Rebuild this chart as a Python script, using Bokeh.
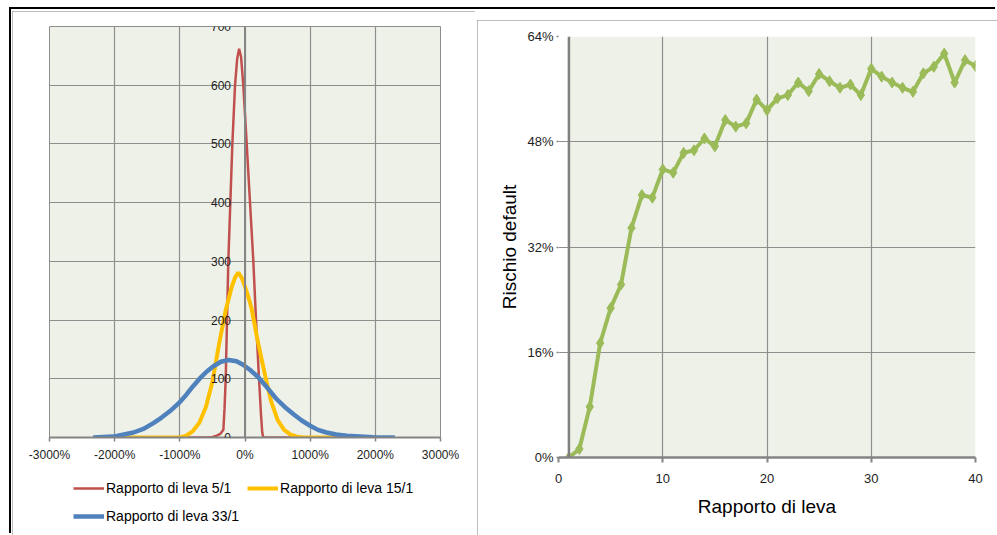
from bokeh.plotting import figure
from bokeh.models import (Range1d, FixedTicker, PrintfTickFormatter, Span, BoxAnnotation,
                          Legend, LegendItem, Label, Div)
from bokeh.embed import file_html
from bokeh.resources import INLINE

# ---------------- left chart data ----------------
red_x = [-1000, -600, -500, -434, -380, -332, -314, -296, -276, -256, -225, -194, -153,
         -120, -90, -60, -26, 26, 77, 128, 169, 215, 245, 265, 280, 1000]
red_y = [0, 0, 1, 3, 6, 13, 50, 100, 200, 300, 400, 500, 600,
         645, 662, 648, 600, 500, 400, 300, 200, 100, 40, 8, 0, 0]

yellow_x = [-2000, -1000, -900, -800, -700, -600, -500, -400, -300, -200, -150, -103, -50,
            0, 50, 100, 200, 300, 400, 500, 600, 700, 800, 900, 2000]
yellow_y = [0, 0, 3, 11, 25, 52, 95, 158, 215, 258, 273, 281, 272,
            257, 240, 220, 162, 110, 62, 30, 13, 5, 1.5, 0, 0]

blue_x = [-2330, -2020, -1710, -1550, -1400, -1280, -1150, -1020, -900, -800, -690, -590,
          -490, -370, -250, -130, -30, 90, 200, 340, 480, 610, 740, 870, 1000, 1120, 1250,
          1400, 1560, 1970, 2300]
blue_y = [0, 1.5, 8.5, 15, 25, 34, 45, 58, 73, 87, 101, 112,
          121, 129, 132, 130, 124, 114, 103, 85, 66, 52, 40, 29, 20, 13, 8.5,
          5, 3, 0.5, 0]

series_names = ["Rapporto di leva 5/1", "Rapporto di leva 15/1", "Rapporto di leva 33/1"]
series_colors = ["#c0504d", "#ffc000", "#4f81bd"]
series_widths = [2.5, 4, 4.5]
left_x_ticks = [-3000, -2000, -1000, 0, 1000, 2000, 3000]
left_y_ticks = [0, 100, 200, 300, 400, 500, 600, 700]
left_y_labels = ["0", "100", "200", "300", "400", "500", "600", "700"]

# ---------------- right chart data ----------------
leverage = list(range(1, 41))
default_risk = [0, 1.3, 7.7, 17.4, 22.7, 26.3, 34.9, 39.9, 39.5, 43.8,
                43.3, 46.3, 46.7, 48.5, 47.3, 51.3, 50.3, 50.8, 54.4, 52.8,
                54.6, 55.1, 57.0, 55.7, 58.3, 57.2, 56.2, 56.7, 55.1, 59.1,
                57.9, 57.0, 56.2, 55.6, 58.4, 59.4, 61.4, 57.0, 60.4, 59.5]
right_x_ticks = [0, 10, 20, 30, 40]
right_y_ticks = [0, 16, 32, 48, 64]

FONT = "Liberation Sans"
BG = "#eef1e8"
GRID = "#8e8e8e"
AXIS = "#848484"
TXT = "#1e1e1e"

# ================= left figure =================
p1 = figure(width=463, height=524, x_range=Range1d(-3000, 3000), y_range=Range1d(0, 700),
            output_backend="svg", toolbar_location=None,
            min_border_left=37, min_border_right=35, min_border_top=15, min_border_bottom=98)
p1.background_fill_color = BG
p1.border_fill_color = "white"
p1.outline_line_color = GRID
p1.outline_line_width = 1
p1.yaxis.visible = False

ax = p1.xaxis[0]
ax.ticker = FixedTicker(ticks=left_x_ticks)
ax.formatter = PrintfTickFormatter(format="%d%%")
ax.axis_line_color = AXIS
ax.axis_line_width = 2
ax.major_tick_line_color = AXIS
ax.major_tick_line_width = 1.5
ax.major_tick_out = 4
ax.major_tick_in = 0
ax.minor_tick_line_color = None
ax.major_label_standoff = 6
ax.major_label_text_font = FONT
ax.major_label_text_font_size = "12px"
ax.major_label_text_color = TXT

p1.xgrid.ticker = FixedTicker(ticks=left_x_ticks)
p1.ygrid.ticker = FixedTicker(ticks=left_y_ticks)
for g in (p1.xgrid, p1.ygrid):
    g.grid_line_color = GRID
    g.grid_line_width = 1.2

# vertical axis crossing at 0 %
p1.add_layout(Span(location=0, dimension="height", line_color=AXIS, line_width=2))
for v, t in zip(left_y_ticks, left_y_labels):
    p1.add_layout(Label(x=0, y=v, text=t, x_offset=-14, text_align="right",
                        text_baseline="middle", text_font=FONT, text_font_size="12px",
                        text_color=TXT))

p1.line(red_x, red_y, line_color=series_colors[0], line_width=series_widths[0])
p1.line(yellow_x, yellow_y, line_color=series_colors[1], line_width=series_widths[1])
p1.line(blue_x, blue_y, line_color=series_colors[2], line_width=series_widths[2])

# ---- legend of the left chart (own small transparent canvas, placed under the chart)
# same series drawn off-view here only to give the legend its line samples
p3 = figure(width=380, height=52, x_range=Range1d(5000, 6000), y_range=Range1d(5000, 6000),
            output_backend="svg", toolbar_location=None, min_border=0)
p3.axis.visible = False
p3.grid.visible = False
p3.outline_line_color = None
p3.background_fill_alpha = 0
p3.border_fill_alpha = 0
leg_r = [p3.line(x=xs, y=ys, line_color=c, line_width=w)
         for xs, ys, c, w in zip([red_x, yellow_x, blue_x], [red_y, yellow_y, blue_y],
                                 series_colors, series_widths)]
legend = Legend(items=[LegendItem(label=n, renderers=[r]) for n, r in zip(series_names, leg_r)],
                location="top_left", orientation="horizontal", ncols=2,
                glyph_width=31, glyph_height=20, label_standoff=2, spacing=8,
                padding=0, margin=0, border_line_color=None, background_fill_alpha=0,
                label_text_font=FONT, label_text_font_size="14px", label_text_color="#000000",
                label_height=20)
p3.add_layout(legend, "center")

# ================= right figure =================
p2 = figure(width=520, height=515, x_range=Range1d(0, 40), y_range=Range1d(0, 64),
            output_backend="svg", toolbar_location=None,
            min_border_left=81, min_border_right=22, min_border_top=16, min_border_bottom=78)
p2.background_fill_color = "white"
p2.border_fill_color = "white"
p2.outline_line_color = None
p2.add_layout(BoxAnnotation(left=1, right=40, bottom=0, top=64, fill_color=BG, fill_alpha=1,
                            line_alpha=0, level="image"))

p2.xgrid.ticker = FixedTicker(ticks=[10, 20, 30, 40])
p2.ygrid.ticker = FixedTicker(ticks=[16, 32, 48, 64])
for g in (p2.xgrid, p2.ygrid):
    g.grid_line_color = GRID
    g.grid_line_width = 1.2

xa = p2.xaxis[0]
xa.ticker = FixedTicker(ticks=right_x_ticks)
xa.axis_line_color = AXIS
xa.axis_line_width = 2.5
xa.major_tick_line_color = AXIS
xa.major_tick_line_width = 2
xa.major_tick_out = 5
xa.major_tick_in = 0
xa.minor_tick_line_color = None
xa.major_label_standoff = 11
xa.major_label_text_font = FONT
xa.major_label_text_font_size = "13px"
xa.major_label_text_color = TXT
xa.axis_label = "Rapporto di leva"
xa.axis_label_text_font = FONT
xa.axis_label_text_font_size = "19px"
xa.axis_label_text_font_style = "normal"
xa.axis_label_text_color = "#000000"
xa.axis_label_standoff = 10

ya = p2.yaxis[0]
ya.ticker = FixedTicker(ticks=right_y_ticks)
ya.formatter = PrintfTickFormatter(format="%d%%")
ya.axis_line_color = None
ya.major_tick_line_color = AXIS
ya.major_tick_line_width = 1.5
ya.major_tick_out = 2
ya.major_tick_in = 0
ya.minor_tick_line_color = None
ya.major_label_standoff = 3
ya.major_label_text_font = FONT
ya.major_label_text_font_size = "13px"
ya.major_label_text_color = TXT
ya.axis_label = "Rischio default"
ya.axis_label_text_font = FONT
ya.axis_label_text_font_size = "19px"
ya.axis_label_text_font_style = "normal"
ya.axis_label_text_color = "#000000"
ya.axis_label_standoff = 4

p2.add_layout(Span(location=1, dimension="height", line_color="#7f7f7f", line_width=2.5))

p2.line(leverage, default_risk, line_color="#9bbb59", line_width=4)
p2.scatter(leverage, default_risk, marker="diamond", size=11, fill_color="#9bbb59",
           line_color="#9bbb59")

# ================= page frames (independent roots, absolutely placed) =================
frame_div = Div(text="", width=986, height=526, margin=0,
                styles={"position": "absolute", "left": "9px", "top": "7px",
                        "border-top": "2px solid #000000", "border-left": "2px solid #000000",
                        "box-sizing": "border-box"})
p1.styles = {"position": "absolute", "left": "12px", "top": "11px",
             "outline": "1px solid #a8a8a8", "outline-offset": "-1px"}
p2.styles = {"position": "absolute", "left": "477px", "top": "20px",
             "outline": "1px solid #a8a8a8", "outline-offset": "-1px"}
p3.styles = {"position": "absolute", "left": "73px", "top": "478px"}

open("out.html", "w").write(file_html([frame_div, p1, p2, p3], INLINE))
